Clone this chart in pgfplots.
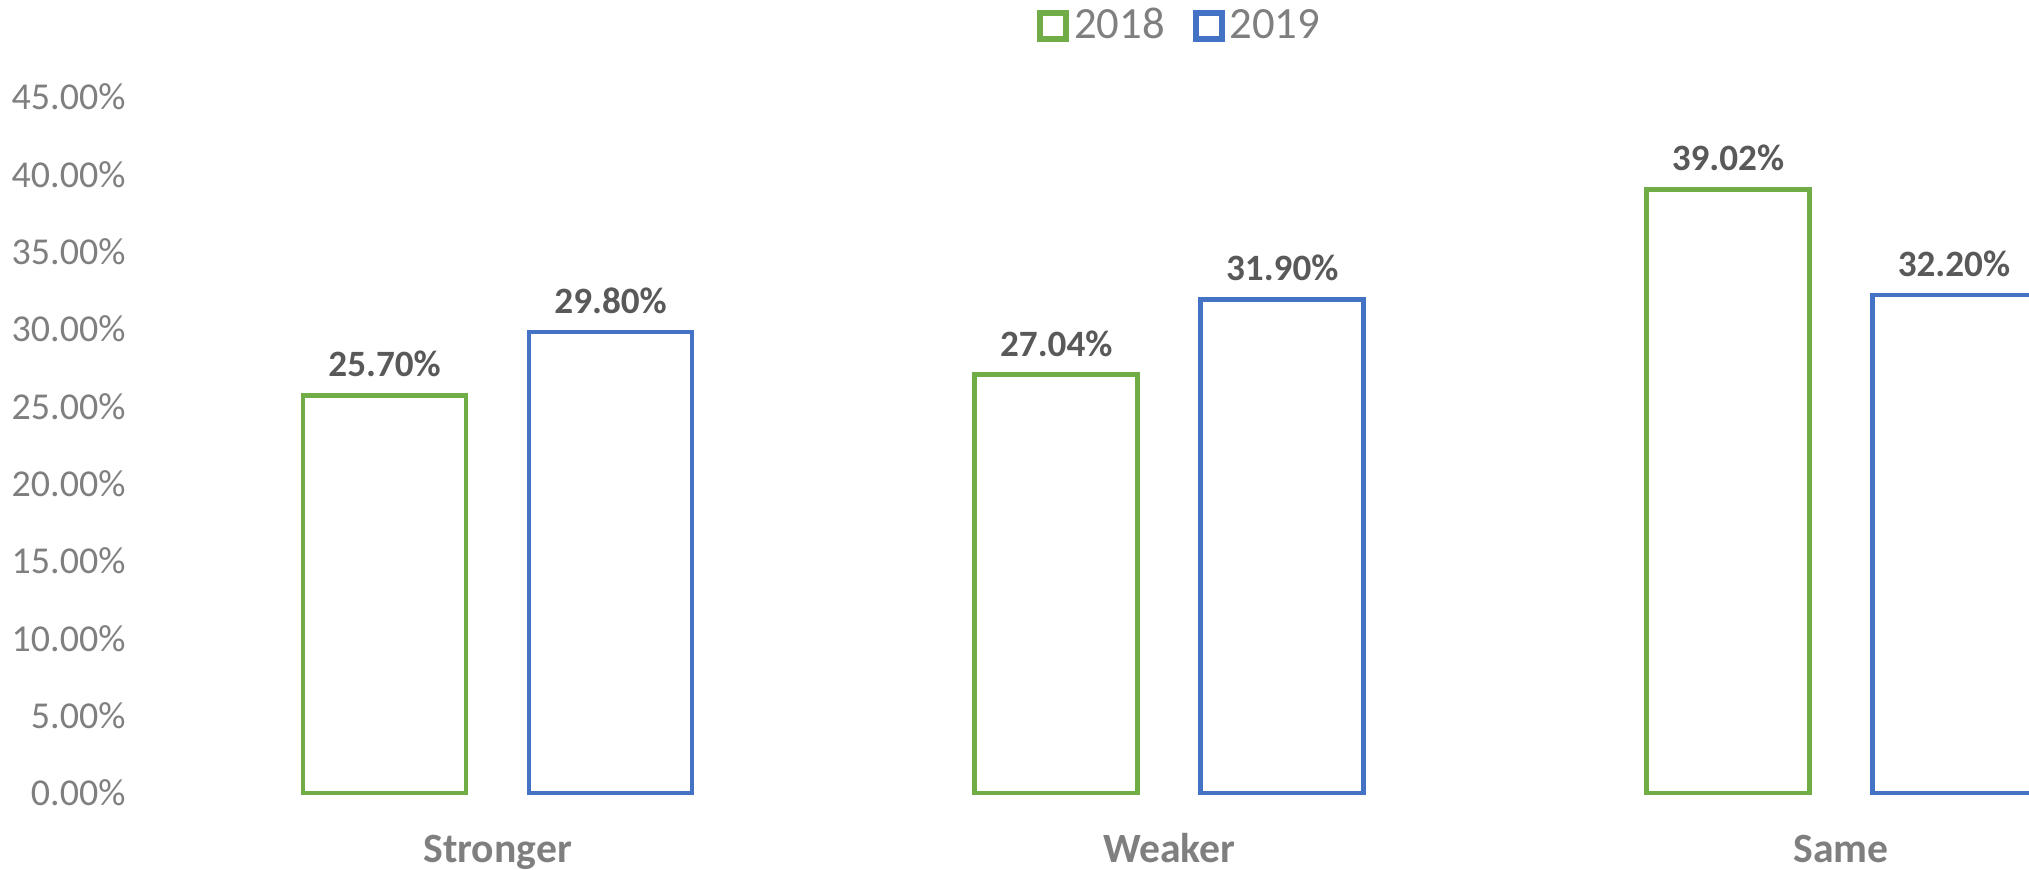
\documentclass[border=0pt]{standalone}
\usepackage{pgfplots}
\pgfplotsset{compat=1.18}
\usepackage{fontspec}
\setmainfont{Carlito}
\definecolor{cgreen}{HTML}{70AD47}
\definecolor{cblue}{HTML}{4472C4}
\definecolor{tickgray}{HTML}{7F7F7F}
\definecolor{labgray}{HTML}{595959}
\begin{document}
\begin{tikzpicture}
\begin{axis}[
  at={(0,0)}, anchor=south west,
  scale only axis, width=560.16pt, height=208.8pt,
  xmin=-0.5, xmax=2.28, ymin=0, ymax=45,
  clip=false,
  axis line style={draw=none},
  major tick length=0pt, tick style={draw=none},
  /pgf/number format/assume math mode=true,
  ytick={0,5,...,45},
  yticklabel={\pgfmathprintnumber[fixed,fixed zerofill,precision=2]{\tick}\%},
  yticklabel style={font=\fontsize{11.4}{14}\selectfont, text=tickgray, anchor=east, inner sep=0pt, xshift=-10.7pt},
  xtick={0,1,2}, xticklabels={Stronger,Weaker,Same},
  xticklabel style={font=\fontsize{12.5}{14}\selectfont\bfseries, text=tickgray, anchor=base, inner sep=0pt, yshift=-20.9pt},
  bar width=48.9pt,
  nodes near coords={\pgfmathprintnumber[fixed,fixed zerofill,precision=2]{\pgfplotspointmeta}\%},
  nodes near coords style={font=\fontsize{11.15}{14}\selectfont\bfseries, text=labgray, anchor=base, inner sep=0pt, yshift=5.6pt},
  legend style={draw=none, fill=none, at={(axis description cs:0.546,1.102)}, anchor=center,
    legend columns=2, font=\fontsize{13.4}{15}\selectfont, text=tickgray,
    nodes={inner sep=1.5pt},
    /tikz/every even column/.append style={column sep=7pt}},
]
\addplot[ybar, bar shift=-33.9pt, draw=cgreen, fill=white, line width=1.4pt,
  every node near coord/.append style={xshift=-33.9pt},
  legend image code/.code={\draw[draw=cgreen, fill=white, line width=1.7pt] (0pt,-3.9pt) rectangle (7.8pt,3.9pt);}]
  coordinates {(0,25.70) (1,27.04) (2,39.02)};
\addlegendentry{2018}
\addplot[ybar, bar shift=33.9pt, draw=cblue, fill=white, line width=1.4pt,
  every node near coord/.append style={xshift=33.9pt},
  legend image code/.code={\draw[draw=cblue, fill=white, line width=1.7pt] (0pt,-3.9pt) rectangle (7.8pt,3.9pt);}]
  coordinates {(0,29.80) (1,31.90) (2,32.20)};
\addlegendentry{2019}
\end{axis}
\pgfresetboundingbox
\useasboundingbox (-48.54pt,-22.8pt) rectangle (560.16pt,237.9pt);
\end{tikzpicture}
\end{document}
